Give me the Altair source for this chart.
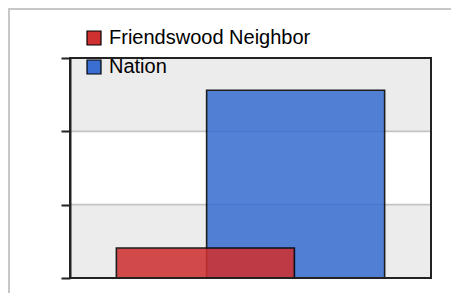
import altair as alt
import pandas as pd

# data
series = ["Friendswood Neighbor", "Nation"]
values = [0.41, 2.56]
colors = ["#cf3131", "#3a6fd1"]
band_lo = [0, 2]
band_hi = [1, 3]
y_ticks = [0, 1, 2, 3]
grid_vals = [1, 2]

# draw Nation first so the red bar overlays it
df = pd.DataFrame({"series": series[::-1], "value": values[::-1]})
bands = pd.DataFrame({"lo": band_lo, "hi": band_hi})
grid = pd.DataFrame({"g": grid_vals})

yscale = alt.Scale(domain=[0, 3], nice=False)
yaxis = alt.Axis(values=y_ticks, labels=False, title=None, grid=False,
                 domainColor="#222", domainWidth=2, zindex=1,
                 tickColor="#222", tickWidth=2, tickSize=9)

band_layer = alt.Chart(bands).mark_rect(color="#ececec").encode(
    x=alt.value(0), x2=alt.value(361),
    y=alt.Y("lo:Q", scale=yscale, axis=yaxis), y2="hi:Q",
)

grid_layer = alt.Chart(grid).mark_rule(color="#c4c4c4", strokeWidth=1.8).encode(
    x=alt.value(0), x2=alt.value(361),
    y=alt.Y("g:Q", scale=yscale, axis=yaxis),
)

bars = alt.Chart(df).mark_bar(
    width=178, stroke="black", strokeWidth=1.6, opacity=0.87
).encode(
    x=alt.X("series:N", sort=series, axis=None,
            scale=alt.Scale(domain=series, paddingInner=0, paddingOuter=1.0)),
    y=alt.Y("value:Q", scale=yscale, axis=yaxis),
    color=alt.Color("series:N",
                    scale=alt.Scale(domain=series, range=colors),
                    legend=alt.Legend(orient="none", legendX=14, legendY=-30,
                                      title=None, symbolType="square",
                                      symbolSize=196, symbolStrokeColor="black",
                                      symbolStrokeWidth=1.2, symbolOpacity=1,
                                      labelFont="Liberation Sans", labelFontSize=20,
                                      labelColor="black", labelOffset=5,
                                      labelLimit=400, rowPadding=9)),
)

border = alt.Chart(alt.Data(values=[{}])).mark_rect(
    fillOpacity=0, stroke="#222", strokeWidth=2
).encode(x=alt.value(0), x2=alt.value(361), y=alt.value(0), y2=alt.value(220))

frame_top = alt.Chart(alt.Data(values=[{}])).mark_rule(color="#c8c8c8", strokeWidth=2).encode(
    x=alt.value(-62), x2=alt.value(400), y=alt.value(-49)
)
frame_left = alt.Chart(alt.Data(values=[{}])).mark_rule(color="#c8c8c8", strokeWidth=2).encode(
    x=alt.value(-61), y=alt.value(-50), y2=alt.value(260)
)

chart = alt.layer(band_layer, grid_layer, bars, border, frame_top, frame_left).properties(
    width=361, height=220, autosize="none",
    padding={"left": 62, "top": 50, "right": 20, "bottom": 15},
).configure_view(stroke=None)

chart.save("out.html", embed_options={"renderer": "svg", "actions": False})
